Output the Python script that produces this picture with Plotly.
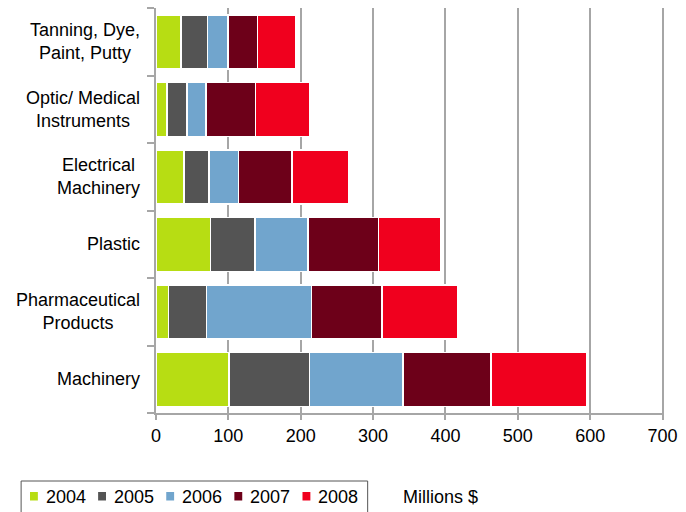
import plotly.graph_objects as go

categories = ["Machinery", "Pharmaceutical<br>Products", "Plastic",
              "Electrical<br>Machinery", "Optic/ Medical<br>Instruments",
              "Tanning, Dye,<br>Paint, Putty"]
years = ["2004", "2005", "2006", "2007", "2008"]
v2004 = [101, 17, 75, 38.5, 15.4, 34.4]
v2005 = [111, 53, 62, 34.5, 27.2, 36.6]
v2006 = [129, 145, 73, 40.7, 26.2, 28.2]
v2007 = [122, 97.5, 97.5, 74.3, 68.9, 41.2]
v2008 = [132, 105, 86, 78.8, 75.3, 53.4]
series = [v2004, v2005, v2006, v2007, v2008]
colors = ["#b7dd13", "#545454", "#71a5cd", "#6d0019", "#f0001e"]
x_ticks = [0, 100, 200, 300, 400, 500, 600, 700]
unit_label = "Millions $"

FONT = "Liberation Sans, Arial, sans-serif"
AX = "#a6a6a6"

fig = go.Figure()
for yr, vals, col in zip(years, series, colors):
    fig.add_trace(go.Bar(
        y=categories, x=vals, name=yr, orientation="h",
        marker=dict(color=col, line=dict(color="white", width=1.5)),
        showlegend=False,
    ))

W, H = 686, 512
L, R, T, B = 156, 14, 8, 99
pw, ph = W - L - R, H - T - B

def px_x(p):
    return (p - L) / pw

def px_y(p):
    return (H - B - p) / ph

annotations = []
# category labels
for c in categories:
    annotations.append(dict(
        x=0, xref="paper", y=c, yref="y", text=c, showarrow=False,
        xanchor="right", yanchor="middle", align="center", xshift=-14,
        font=dict(family=FONT, size=18, color="black")))

# custom legend
shapes = [dict(type="rect", xref="paper", yref="paper",
               x0=px_x(19), x1=px_x(371), y0=px_y(520), y1=px_y(481),
               line=dict(color="#555555", width=1), fillcolor="rgba(0,0,0,0)")]
for i, (yr, col) in enumerate(zip(years, colors)):
    mx = 28 + 69.2 * i
    shapes.append(dict(type="rect", xref="paper", yref="paper",
                       x0=px_x(mx), x1=px_x(mx + 8), y0=px_y(500.5), y1=px_y(492),
                       line=dict(width=0), fillcolor=col))
    annotations.append(dict(
        x=px_x(mx + 14), xref="paper", y=px_y(497), yref="paper", text=yr,
        showarrow=False, xanchor="left", yanchor="middle",
        font=dict(family=FONT, size=18, color="black")))

annotations.append(dict(
    x=px_x(405), xref="paper", y=px_y(497), yref="paper", text=unit_label,
    showarrow=False, xanchor="left", yanchor="middle",
    font=dict(family=FONT, size=18, color="black")))

fig.update_layout(
    barmode="stack", bargap=0.2,
    width=W, height=H,
    margin=dict(l=L, r=R, t=T, b=B, pad=0),
    plot_bgcolor="white", paper_bgcolor="white",
    font=dict(family=FONT, size=18, color="black"),
    annotations=annotations, shapes=shapes,
)
fig.update_xaxes(
    range=[0, 702], tickvals=x_ticks, ticktext=[str(t) for t in x_ticks],
    showgrid=True, gridcolor=AX, gridwidth=2, zeroline=False,
    showline=True, linecolor=AX, linewidth=2,
    ticks="outside", ticklen=5, tickwidth=2, tickcolor=AX,
    tickfont=dict(family=FONT, size=18, color="black"),
)
fig.update_yaxes(
    categoryorder="array", categoryarray=categories,
    showline=True, linecolor=AX, linewidth=2, showgrid=False,
    ticks="outside", tickson="boundaries", ticklen=7, tickwidth=2, tickcolor=AX,
    showticklabels=False,
)

fig.write_html(
    "out.html",
    config={"displayModeBar": False},
    post_script="document.body.style.margin='0';document.body.style.overflow='hidden';",
)
